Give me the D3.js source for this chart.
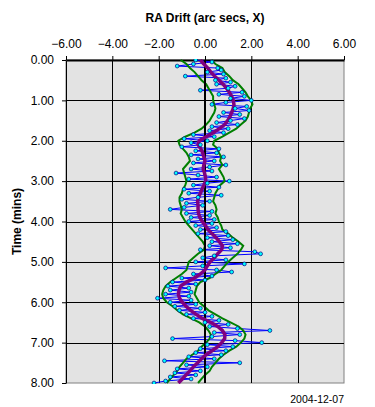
<!DOCTYPE html>
<html lang="en">
<head>
<meta charset="UTF-8">
<title>RA Drift</title>
<script src="https://d3js.org/d3.v7.min.js"></script>
<style>
    html, body {
        margin: 0;
        background: #fff;
    }
    text {
        font-family: "Liberation Sans", Arial, sans-serif;
    }
</style>
</head>
<body>
<div id="vis"></div>
<script>
// raw drift readings, one every 0.05 min
var rawTimes = d3.range(0, 161).map(function(i) { return +(i * 0.05).toFixed(2); });
var rawDrift = [
    -0.40, 0.30, -0.50, -1.20, 0.55, 0.70, 0.10, 0.80, -0.85, 0.90,
    0.45, 1.10, 0.50, 1.30, 1.00, -0.20, 1.60, 0.60, 1.70, 1.10,
    2.00, 0.90, 0.30, 1.80, 1.30, 1.90, 0.80, 1.50, 0.60, 1.70,
    1.10, 0.50, 1.40, 0.30, 1.00, 0.20, 0.80, -0.50, 0.40, -0.90,
    0.10, -0.60, -0.20, -1.00, 0.60, -0.40, 0.50, -0.60, 0.80, -0.30,
    0.40, -0.50, 0.90, 0.20, -0.60, 0.30, -1.25, -0.30, 0.50, -0.70,
    1.05, 0.10, -0.50, 0.60, -0.90, 0.20, -0.70, 0.70, -0.30, -1.00,
    0.20, -0.80, -0.10, -0.90, -1.50, 0.30, -0.80, 0.20, -0.60, 0.40,
    -0.70, 0.30, -0.40, 0.50, -0.20, 0.90, -0.30, 1.00, 0.10, 1.20,
    0.30, 1.40, 0.20, 1.10, -0.20, 2.15, 2.40, 0.40, -0.10, 0.90,
    -0.40, 1.70, -0.10, -1.70, 0.50, 1.15, -0.50, 0.30, -1.00, 0.00,
    -1.40, -0.40, -1.60, -0.70, -1.50, -0.60, -1.70, -0.70, -2.05, -0.60,
    -1.50, -0.40, -1.30, -0.20, -1.10, 0.00, -0.80, 0.30, -0.50, 0.60,
    0.00, 1.00, 0.20, 1.40, 2.80, 0.40, 1.50, 0.30, -1.40, 1.30,
    2.45, 0.10, 1.20, -0.20, 0.90, -0.40, 0.70, -0.70, 0.40, -1.75,
    1.50, -0.80, 0.10, -1.20, -0.20, -1.30, -0.40, -1.50, -0.60, -1.70,
    -2.20
];

// smoothed drift and envelope, one every 0.1 min
var avgTimes = d3.range(0, 81).map(function(i) { return +(i * 0.1).toFixed(1); });
var avgDrift = [
    -0.20, -0.05, 0.12, 0.25, 0.42, 0.60, 0.78, 0.93, 1.05, 1.15,
    1.22, 1.25, 1.22, 1.15, 1.08, 0.98, 0.85, 0.62, 0.35, 0.05,
    -0.25, -0.30, -0.18, -0.10, -0.05, 0.00, -0.05, -0.08, -0.02, 0.02,
    0.03, -0.05, -0.13, -0.20, -0.28, -0.32, -0.30, -0.30, -0.28, -0.22,
    -0.12, 0.02, 0.13, 0.30, 0.48, 0.62, 0.75, 0.72, 0.55, 0.40,
    0.22, 0.10, 0.00, -0.20, -0.45, -0.80, -1.05, -1.12, -1.15, -1.10,
    -0.98, -0.82, -0.62, -0.38, -0.12, 0.25, 0.55, 0.75, 0.86, 0.85,
    0.72, 0.55, 0.30, 0.05, -0.15, -0.32, -0.50, -0.65, -0.82, -0.98,
    -1.15
];
var upperDrift = [
    0.30, 0.45, 0.75, 0.85, 1.05, 1.20, 1.45, 1.60, 1.75, 1.85,
    2.00, 2.05, 1.95, 1.90, 1.85, 1.75, 1.55, 1.35, 1.05, 0.75,
    0.40, 0.35, 0.55, 0.60, 0.70, 0.65, 0.75, 0.60, 0.70, 0.80,
    0.85, 0.65, 0.55, 0.45, 0.40, 0.35, 0.45, 0.50, 0.45, 0.55,
    0.60, 0.70, 0.75, 1.00, 1.20, 1.45, 1.65, 1.55, 1.40, 1.20,
    1.00, 0.85, 0.70, 0.45, 0.20, -0.20, -0.35, -0.40, -0.45, -0.35,
    -0.25, -0.05, 0.15, 0.45, 0.75, 1.10, 1.45, 1.65, 1.75, 1.70,
    1.55, 1.35, 1.05, 0.80, 0.60, 0.45, 0.30, 0.20, 0.00, -0.15,
    -0.30
];
var lowerDrift = [
    -1.05, -0.80, -0.65, -0.45, -0.30, -0.15, 0.05, 0.15, 0.25, 0.35,
    0.35, 0.40, 0.45, 0.40, 0.30, 0.20, 0.05, -0.15, -0.45, -0.85,
    -1.15, -1.10, -0.95, -0.80, -0.70, -0.65, -0.80, -0.95, -0.90, -0.85,
    -0.80, -0.85, -0.95, -1.00, -1.10, -1.10, -1.05, -1.00, -1.05, -0.95,
    -0.85, -0.70, -0.55, -0.40, -0.25, -0.10, 0.00, -0.05, -0.30, -0.50,
    -0.70, -0.75, -0.80, -1.00, -1.25, -1.50, -1.70, -1.80, -1.85, -1.80,
    -1.65, -1.40, -1.20, -0.95, -0.60, -0.25, 0.00, 0.15, 0.25, 0.20,
    0.05, -0.15, -0.30, -0.55, -0.80, -0.95, -1.10, -1.20, -1.35, -1.50,
    -1.65
];

var xTicks = [-6, -4, -2, 0, 2, 4, 6];
var yTicks = [0, 1, 2, 3, 4, 5, 6, 7, 8];

var width = 375, height = 407;
var margin = { top: 60, right: 31, bottom: 24, left: 66 };
var w = width - margin.left - margin.right;
var h = height - margin.top - margin.bottom;

var svg = d3.select('#vis')
    .append('svg')
    .attr('width', width)
    .attr('height', height);

var g = svg.append('g')
    .attr('transform', 'translate(' + margin.left + ',' + margin.top + ')');

var x = d3.scaleLinear().domain([-6, 6]).range([0, w]);
var y = d3.scaleLinear().domain([0, 8]).range([0, h]);

g.append('rect')
    .attr('width', w)
    .attr('height', h)
    .attr('fill', '#e3e3e3')
    .attr('stroke', '#808080')
    .attr('stroke-width', 1);

// gridlines
g.selectAll('.vgrid')
    .data(xTicks.slice(1, -1))
    .enter()
    .append('line')
    .attr('x1', function(d) { return Math.round(x(d)) + 0.5; })
    .attr('x2', function(d) { return Math.round(x(d)) + 0.5; })
    .attr('y1', 0)
    .attr('y2', h)
    .attr('stroke', '#000');

g.selectAll('.hgrid')
    .data(yTicks.slice(1, -1))
    .enter()
    .append('line')
    .attr('x1', 0)
    .attr('x2', w)
    .attr('y1', function(d) { return Math.round(y(d)) + 0.5; })
    .attr('y2', function(d) { return Math.round(y(d)) + 0.5; })
    .attr('stroke', '#000');

// axes
var xAxis = d3.axisTop(x)
    .tickValues(xTicks)
    .tickFormat(d3.format('.2f'))
    .tickSizeInner(4)
    .tickSizeOuter(0)
    .tickPadding(8);

var yAxis = d3.axisLeft(y)
    .tickValues(yTicks)
    .tickFormat(d3.format('.2f'))
    .tickSizeInner(4)
    .tickSizeOuter(0)
    .tickPadding(8);

var gx = g.append('g').attr('class', 'x axis').call(xAxis);
var gy = g.append('g').attr('class', 'y axis').call(yAxis);

gx.select('.domain').attr('stroke', '#000').attr('stroke-width', 2);
gy.select('.domain').attr('stroke', '#000').attr('stroke-width', 1);
gx.selectAll('text').attr('font-size', 12).attr('fill', '#000');
gy.selectAll('text').attr('font-size', 12).attr('fill', '#000');
gx.selectAll('line').attr('stroke', '#000');
gy.selectAll('line').attr('stroke', '#000');

// series
g.append('clipPath').attr('id', 'clip')
    .append('rect').attr('x', -4).attr('y', -1).attr('width', w + 8).attr('height', h + 2);

var plot = g.append('g').attr('clip-path', 'url(#clip)');

function seriesLine(vals) {
    return d3.line()
        .x(function(d, i) { return x(vals[i]); })
        .y(function(d) { return y(d); });
}

plot.append('path')
    .datum(rawTimes)
    .attr('d', seriesLine(rawDrift))
    .attr('fill', 'none')
    .attr('stroke', '#0000ff')
    .attr('stroke-width', 1);

plot.append('path')
    .datum(avgTimes)
    .attr('d', seriesLine(upperDrift))
    .attr('fill', 'none')
    .attr('stroke', '#008000')
    .attr('stroke-width', 2);

plot.append('path')
    .datum(avgTimes)
    .attr('d', seriesLine(lowerDrift))
    .attr('fill', 'none')
    .attr('stroke', '#008000')
    .attr('stroke-width', 2);

plot.append('line')
    .attr('x1', x(0))
    .attr('x2', x(0))
    .attr('y1', 0)
    .attr('y2', h)
    .attr('stroke', '#000')
    .attr('stroke-width', 2);

plot.append('path')
    .datum(avgTimes)
    .attr('d', seriesLine(avgDrift))
    .attr('fill', 'none')
    .attr('stroke', '#800080')
    .attr('stroke-width', 3.5);

plot.selectAll('.pt')
    .data(rawTimes)
    .enter()
    .append('circle')
    .attr('class', 'pt')
    .attr('cx', function(d, i) { return x(rawDrift[i]); })
    .attr('cy', function(d) { return y(d); })
    .attr('r', 1.9)
    .attr('fill', '#00ffff')
    .attr('stroke', '#000080')
    .attr('stroke-width', 0.7);

// titles
svg.append('text')
    .attr('x', margin.left + x(0))
    .attr('y', 22)
    .attr('text-anchor', 'middle')
    .attr('font-size', 12)
    .attr('font-weight', 'bold')
    .text('RA Drift (arc secs, X)');

svg.append('text')
    .attr('transform', 'translate(21,' + (margin.top + h / 2) + ') rotate(-90)')
    .attr('text-anchor', 'middle')
    .attr('font-size', 12)
    .attr('font-weight', 'bold')
    .text('Time (mins)');

svg.append('text')
    .attr('x', margin.left + w)
    .attr('y', 403)
    .attr('text-anchor', 'end')
    .attr('font-size', 10.5)
    .text('2004-12-07');
</script>
</body>
</html>
